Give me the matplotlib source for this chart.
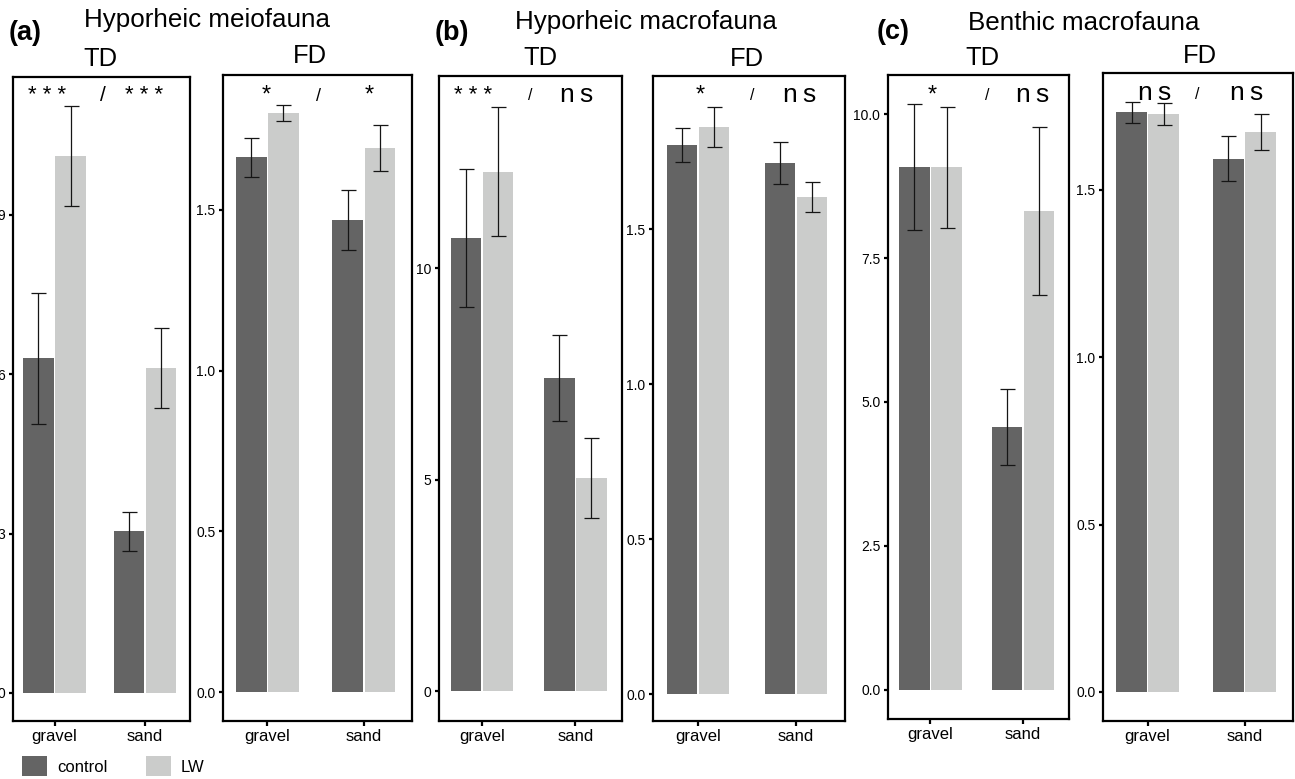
import matplotlib
matplotlib.use("Agg")
import matplotlib.pyplot as plt
from matplotlib.patches import Patch

W, H = 1295, 779
plt.rcParams['font.family'] = ['Liberation Sans', 'DejaVu Sans']

habitats = ['gravel', 'sand']
treatments = ['control', 'LW']
colors = ['#646464', '#CBCCCB']

# ---- data (mean, standard error) per panel: [gravel, sand] ----
a_td_control = [6.30, 3.04];   a_td_control_se = [1.23, 0.37]
a_td_lw = [10.11, 6.11];       a_td_lw_se = [0.94, 0.75]
a_fd_control = [1.664, 1.469]; a_fd_control_se = [0.061, 0.093]
a_fd_lw = [1.803, 1.692];      a_fd_lw_se = [0.025, 0.072]
b_td_control = [10.72, 7.41];  b_td_control_se = [1.64, 1.02]
b_td_lw = [12.29, 5.05];       b_td_lw_se = [1.53, 0.945]
b_fd_control = [1.770, 1.713]; b_fd_control_se = [0.055, 0.068]
b_fd_lw = [1.830, 1.603];      b_fd_lw_se = [0.065, 0.049]
c_td_control = [9.08, 4.56];   c_td_control_se = [1.10, 0.665]
c_td_lw = [9.08, 8.32];        c_td_lw_se = [1.05, 1.455]
c_fd_control = [1.731, 1.593]; c_fd_control_se = [0.032, 0.067]
c_fd_lw = [1.727, 1.673];      c_fd_lw_se = [0.033, 0.054]

a_td_ticks = [0, 3, 6, 9];           a_td_ticklabels = ['0', '3', '6', '9']
fd_ticks = [0, 0.5, 1.0, 1.5];       fd_ticklabels = ['0.0', '0.5', '1.0', '1.5']
b_td_ticks = [0, 5, 10];             b_td_ticklabels = ['0', '5', '10']
c_td_ticks = [0, 2.5, 5, 7.5, 10];   c_td_ticklabels = ['0.0', '2.5', '5.0', '7.5', '10.0']

NS = 'n\u2009s'
STARS = '* * *'
# significance labels: (text, x_px, baseline_px, size)
a_td_sig = [(STARS, 47, 101, 16), ('/', 103, 101, 15), (STARS, 144, 101, 16)]
a_fd_sig = [('*', 266, 101.5, 17), ('/', 318, 101, 13), ('*', 369, 101.5, 17)]
b_td_sig = [(STARS, 473, 101, 16), ('/', 530, 100, 11.5), (NS, 577, 102, 19)]
b_fd_sig = [('*', 700, 101.5, 17), ('/', 752, 100, 11.5), (NS, 800, 102, 19)]
c_td_sig = [('*', 932, 101.5, 17), ('/', 987, 100, 11.5), (NS, 1033, 102, 19)]
c_fd_sig = [(NS, 1155, 100, 19), ('/', 1197, 99, 11.5), (NS, 1247, 100, 19)]

fig = plt.figure(figsize=(W / 100, H / 100), dpi=100)

XL = (0.54, 2.5)


def px_axes(l, t, r, b):
    return fig.add_axes([l / W, 1 - b / H, (r - l) / W, (b - t) / H])


def panel(rect, ctrl, ctrl_se, lw, lw_se, ylim, ticks, ticklabels, sig):
    ax = px_axes(*rect)
    x = [1, 2]
    ppu = (rect[2] - rect[0]) / (XL[1] - XL[0])
    w = 30.5 / ppu
    g = 0.8 / ppu
    ax.bar([xi - g for xi in x], ctrl, width=-w, align='edge', color=colors[0], zorder=1)
    ax.bar([xi + g for xi in x], lw, width=w, align='edge', color=colors[1], zorder=1)
    ax.errorbar([xi - g - w / 2 for xi in x], ctrl, yerr=ctrl_se, fmt='none',
                ecolor='#151515', elinewidth=0.9, capsize=5.4, capthick=0.9, zorder=2)
    ax.errorbar([xi + g + w / 2 for xi in x], lw, yerr=lw_se, fmt='none',
                ecolor='#151515', elinewidth=0.9, capsize=5.4, capthick=0.9, zorder=2)
    ax.set_xlim(*XL)
    ax.set_ylim(*ylim)
    ax.set_xticks(x)
    ax.set_xticklabels(habitats, fontsize=12)
    ax.set_yticks(ticks)
    ax.set_yticklabels(ticklabels, fontsize=10,
                       fontfamily=['Liberation Sans Narrow', 'Liberation Sans'])
    ax.tick_params(axis='y', length=3, width=1.6, pad=2.5, direction='out')
    ax.tick_params(axis='x', length=3.5, width=1.6, pad=2.5, direction='out')
    for s in ax.spines.values():
        s.set_linewidth(1.6)
    for txt, xp, yp, fs in sig:
        fig.text(xp / W, 1 - yp / H, txt, fontsize=fs, ha='center', va='baseline')
    return ax


panel((13, 77, 190, 721), a_td_control, a_td_control_se, a_td_lw, a_td_lw_se,
      (-0.527, 11.59), a_td_ticks, a_td_ticklabels, a_td_sig)
panel((223, 75, 412, 721), a_fd_control, a_fd_control_se, a_fd_lw, a_fd_lw_se,
      (-0.090, 1.920), fd_ticks, fd_ticklabels, a_fd_sig)
panel((439, 76, 622, 721), b_td_control, b_td_control_se, b_td_lw, b_td_lw_se,
      (-0.70, 14.55), b_td_ticks, b_td_ticklabels, b_td_sig)
panel((653, 76, 845, 721), b_fd_control, b_fd_control_se, b_fd_lw, b_fd_lw_se,
      (-0.087, 1.994), fd_ticks, fd_ticklabels, b_fd_sig)
panel((888, 75, 1069, 719), c_td_control, c_td_control_se, c_td_lw, c_td_lw_se,
      (-0.51, 10.68), c_td_ticks, c_td_ticklabels, c_td_sig)
panel((1103, 73, 1293, 721), c_fd_control, c_fd_control_se, c_fd_lw, c_fd_lw_se,
      (-0.087, 1.849), fd_ticks, fd_ticklabels, c_fd_sig)

# titles: (text, left_px, baseline_px, size, weight)
titles = [
    ('(a)', 9, 40, 19.5, 'bold'), ('Hyporheic meiofauna', 84, 27, 18.7, 'normal'),
    ('TD', 83, 66, 18.4, 'normal'), ('FD', 293, 63, 18.4, 'normal'),
    ('(b)', 435, 40, 19.5, 'bold'), ('Hyporheic macrofauna', 515, 29, 18.7, 'normal'),
    ('TD', 523, 65, 18.4, 'normal'), ('FD', 730, 66, 18.4, 'normal'),
    ('(c)', 877, 39, 19.5, 'bold'), ('Benthic macrofauna', 968, 30, 18.7, 'normal'),
    ('TD', 965, 65, 18.4, 'normal'), ('FD', 1183, 63, 18.4, 'normal'),
]
for txt, xp, yp, fs, fw in titles:
    fig.text(xp / W, 1 - yp / H, txt, fontsize=fs, fontweight=fw, ha='left', va='baseline')

handles = [Patch(facecolor=c, edgecolor='none') for c in colors]
fig.legend(handles, treatments, loc='center left', bbox_to_anchor=(22 / W, 1 - 766 / H),
           ncol=2, frameon=False, fontsize=12, handlelength=1.5, handleheight=1.45,
           handletextpad=0.6, columnspacing=2.3, borderpad=0, borderaxespad=0)

fig.savefig('out.png', dpi=100)
